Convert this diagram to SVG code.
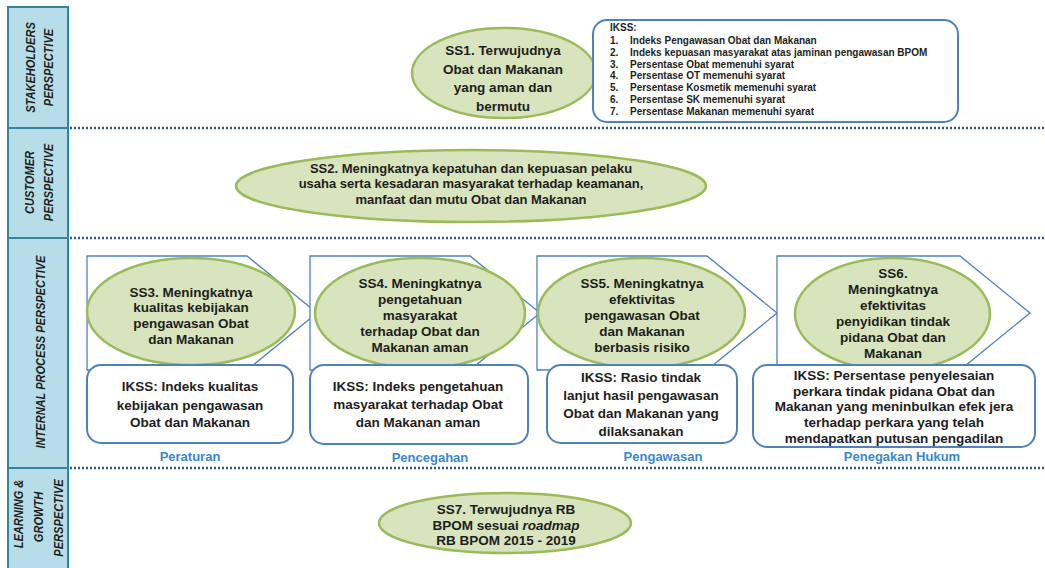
<svg xmlns="http://www.w3.org/2000/svg" width="1045" height="568" viewBox="0 0 1045 568">
<style>
.bg{fill:#ffffff}
.col{fill:#b7dee8;stroke:#31859c;stroke-width:2}
.sep{stroke:#31859c;stroke-width:2}
.dot{stroke:#2f5597;stroke-width:2.5;stroke-dasharray:2 2;fill:none}
.ell{fill:#d7e4bd;stroke:#9bbb59;stroke-width:2.5}
.box{fill:#ffffff;stroke:#4f81bd;stroke-width:2}
.chev{fill:#ffffff;stroke:#4f81bd;stroke-width:1.3}
.t{font-family:"Liberation Sans",Arial,sans-serif;font-weight:bold;font-size:13.5px;fill:#1e1e1e;text-anchor:middle}
.t2{font-family:"Liberation Sans",Arial,sans-serif;font-weight:bold;font-size:13px;fill:#1e1e1e;text-anchor:middle}
.ik{font-family:"Liberation Sans",Arial,sans-serif;font-weight:bold;font-size:10px;fill:#1e1e1e}
.lab{font-family:"Liberation Sans",Arial,sans-serif;font-weight:bold;font-size:13px;fill:#3a88c8;text-anchor:middle}
.side{font-family:"Liberation Sans",Arial,sans-serif;font-weight:bold;font-style:italic;font-size:13px;fill:#1e1e1e;text-anchor:middle}
</style>
<rect class="bg" x="0" y="0" width="1045" height="568"/>

<g id="perspective-column">
<rect class="col" x="8" y="7" width="60" height="565"/>
<line class="sep" x1="8" y1="128" x2="68" y2="128"/>
<line class="sep" x1="8" y1="238" x2="68" y2="238"/>
<line class="sep" x1="8" y1="468" x2="68" y2="468"/>
<text class="side" transform="translate(35 67.5) rotate(-90) scale(0.85 1)">STAKEHOLDERS</text>
<text class="side" transform="translate(53 67.5) rotate(-90) scale(0.85 1)">PERSPECTIVE</text>
<text class="side" transform="translate(34 182.5) rotate(-90) scale(0.85 1)">CUSTOMER</text>
<text class="side" transform="translate(53 182.5) rotate(-90) scale(0.85 1)">PERSPECTIVE</text>
<text class="side" transform="translate(45 352) rotate(-90) scale(0.85 1)">INTERNAL PROCESS PERSPECTIVE</text>
<text class="side" transform="translate(23 514) rotate(-90) scale(0.85 1)">LEARNING &amp;</text>
<text class="side" transform="translate(43 517) rotate(-90) scale(0.85 1)">GROWTH</text>
<text class="side" transform="translate(63 518) rotate(-90) scale(0.85 1)">PERSPECTIVE</text>
</g>

<g id="dividers">
<line class="dot" x1="70" y1="128" x2="1045" y2="128"/>
<line class="dot" x1="70" y1="238" x2="1045" y2="238"/>
<line class="dot" x1="70" y1="468" x2="1045" y2="468"/>
</g>

<g id="connectors">
<polygon class="chev" points="87,256 247,256 317,313 247,370 87,370"/>
<polygon class="chev" points="310,256 470,256 540,313 470,370 310,370"/>
<polygon class="chev" points="537,256 707,256 777,313 707,370 537,370"/>
<polygon class="chev" points="777,256 960,256 1030,313 960,370 777,370"/>
</g>

<g id="SS1">
<ellipse class="ell" cx="504" cy="73" rx="92" ry="45"/>
<text class="t"><tspan x="503" y="55">SS1. Terwujudnya</tspan><tspan x="503" y="73.5">Obat dan Makanan</tspan><tspan x="503" y="92">yang aman dan</tspan><tspan x="503" y="110.5">bermutu</tspan></text>
</g>

<g id="IKSS1">
<rect class="box" x="593" y="20" width="365" height="102" rx="14"/>
<text class="ik" x="610" y="31">IKSS:</text>
<text class="ik"><tspan x="610" y="44">1.</tspan><tspan x="610" y="55.8">2.</tspan><tspan x="610" y="67.6">3.</tspan><tspan x="610" y="79.4">4.</tspan><tspan x="610" y="91.2">5.</tspan><tspan x="610" y="103">6.</tspan><tspan x="610" y="114.8">7.</tspan></text>
<text class="ik"><tspan x="630" y="44">Indeks Pengawasan Obat dan Makanan</tspan><tspan x="630" y="55.8">Indeks kepuasan masyarakat atas jaminan pengawasan BPOM</tspan><tspan x="630" y="67.6">Persentase Obat memenuhi syarat</tspan><tspan x="630" y="79.4">Persentase OT memenuhi syarat</tspan><tspan x="630" y="91.2">Persentase Kosmetik memenuhi syarat</tspan><tspan x="630" y="103">Persentase SK memenuhi syarat</tspan><tspan x="630" y="114.8">Persentase Makanan memenuhi syarat</tspan></text>
</g>

<g id="SS2">
<ellipse class="ell" cx="471" cy="186" rx="235" ry="36"/>
<text class="t2"><tspan x="471" y="172.5">SS2. Meningkatnya kepatuhan dan kepuasan pelaku</tspan><tspan x="471" y="188">usaha serta kesadaran masyarakat terhadap keamanan,</tspan><tspan x="471" y="203.5">manfaat dan mutu Obat dan Makanan</tspan></text>
</g>

<g id="SS3">
<ellipse class="ell" cx="191" cy="311.5" rx="104" ry="53.5"/>
<text class="t"><tspan x="191" y="296.5">SS3. Meningkatnya</tspan><tspan x="191" y="312">kualitas kebijakan</tspan><tspan x="191" y="328">pengawasan Obat</tspan><tspan x="191" y="343.5">dan Makanan</tspan></text>
</g>
<g id="IKSS3">
<rect class="box" x="87" y="365" width="206" height="78" rx="14"/>
<text class="t"><tspan x="190" y="391">IKSS: Indeks kualitas</tspan><tspan x="190" y="409.5">kebijakan pengawasan</tspan><tspan x="190" y="427">Obat dan Makanan</tspan></text>
</g>

<g id="SS4">
<ellipse class="ell" cx="420" cy="313" rx="105" ry="55"/>
<text class="t"><tspan x="420" y="288">SS4. Meningkatnya</tspan><tspan x="420" y="304">pengetahuan</tspan><tspan x="420" y="320">masyarakat</tspan><tspan x="420" y="336">terhadap Obat dan</tspan><tspan x="420" y="352">Makanan aman</tspan></text>
</g>
<g id="IKSS4">
<rect class="box" x="310" y="365" width="218" height="79" rx="14"/>
<text class="t"><tspan x="418" y="391">IKSS: Indeks pengetahuan</tspan><tspan x="418" y="409">masyarakat terhadap Obat</tspan><tspan x="418" y="427">dan Makanan aman</tspan></text>
</g>

<g id="SS5">
<ellipse class="ell" cx="641.5" cy="313" rx="103.5" ry="55"/>
<text class="t"><tspan x="642" y="288">SS5. Meningkatnya</tspan><tspan x="642" y="304">efektivitas</tspan><tspan x="642" y="320">pengawasan Obat</tspan><tspan x="642" y="336">dan Makanan</tspan><tspan x="642" y="352">berbasis risiko</tspan></text>
</g>
<g id="IKSS5">
<rect class="box" x="547" y="365" width="190" height="78" rx="14"/>
<text class="t"><tspan x="641" y="382">IKSS: Rasio tindak</tspan><tspan x="641" y="400">lanjut hasil pengawasan</tspan><tspan x="641" y="418">Obat dan Makanan yang</tspan><tspan x="641" y="436">dilaksanakan</tspan></text>
</g>

<g id="SS6">
<ellipse class="ell" cx="892.5" cy="314" rx="97.5" ry="56"/>
<text class="t"><tspan x="893" y="278">SS6.</tspan><tspan x="893" y="294">Meningkatnya</tspan><tspan x="893" y="310">efektivitas</tspan><tspan x="893" y="326">penyidikan tindak</tspan><tspan x="893" y="342">pidana Obat dan</tspan><tspan x="893" y="358">Makanan</tspan></text>
</g>
<g id="IKSS6">
<rect class="box" x="753" y="365" width="282" height="82" rx="14"/>
<text class="t"><tspan x="894" y="379.5">IKSS: Persentase penyelesaian</tspan><tspan x="894" y="395.5">perkara tindak pidana Obat dan</tspan><tspan x="894" y="411">Makanan yang meninbulkan efek jera</tspan><tspan x="894" y="427">terhadap perkara yang telah</tspan><tspan x="894" y="443">mendapatkan putusan pengadilan</tspan></text>
</g>

<g id="labels">
<text class="lab" x="190" y="461">Peraturan</text>
<text class="lab" x="430" y="462">Pencegahan</text>
<text class="lab" x="663" y="461">Pengawasan</text>
<text class="lab" x="902" y="461">Penegakan Hukum</text>
</g>

<g id="SS7">
<ellipse class="ell" cx="505" cy="523" rx="126" ry="30"/>
<text class="t"><tspan x="506" y="514">SS7. Terwujudnya RB</tspan><tspan x="506" y="529.5">BPOM sesuai <tspan font-style="italic">roadmap</tspan></tspan><tspan x="506" y="545">RB BPOM 2015 - 2019</tspan></text>
</g>
</svg>
